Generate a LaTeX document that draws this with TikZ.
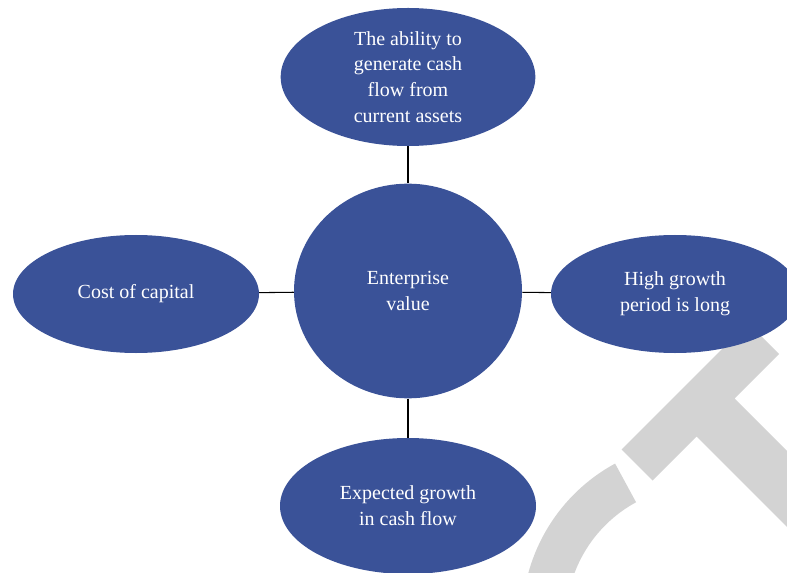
\documentclass[tikz,border=0pt]{standalone}
\usepackage{fontspec}
\setmainfont{Liberation Serif}
\usetikzlibrary{shapes.geometric}
\definecolor{factorBlue}{RGB}{58,82,152}
\definecolor{stampGray}{RGB}{211,211,211}
\tikzset{
  factor/.style={ellipse, fill=factorBlue, text=white, align=center, inner sep=0pt,
    font=\fontsize{15}{19.3}\selectfont},
  link/.style={line width=0.8pt}
}

\begin{document}
\begin{tikzpicture}[x=0.75pt, y=-0.75pt]
\useasboundingbox (0,0) rectangle (787,573);

% watermark behind the diagram
\fill[stampGray] (621.5,449.5) -- (652.5,480.5) -- (696.5,436.5) -- (830,570) -- (868,532)
  -- (734.5,398.5) -- (779,354) -- (748,323) -- cycle;
\fill[stampGray] ([shift={(700,620)}]-118.5:178) arc[start angle=-118.5, end angle=-210, radius=178]
  -- ([shift={(700,620)}]-210:134) arc[start angle=-210, end angle=-118.5, radius=134] -- cycle;

% Enterprise value and its factors
\node[factor, minimum width=171pt, minimum height=161pt] (value) at (408,291) {Enterprise\\value};
\node[factor, minimum width=191pt, minimum height=103.5pt] (ability) at (408,77) {The ability to\\generate cash\\flow from\\current assets};
\node[factor, minimum width=184.5pt, minimum height=88.5pt] (capital) at (136,294) {Cost of capital};
\node[factor, minimum width=186pt, minimum height=88.5pt] (period) at (675,294) {High growth\\period is long};
\node[factor, minimum width=192pt, minimum height=102pt] (growth) at (408,506) {Expected growth\\in cash flow};

\draw[link] (ability) -- (value);
\draw[link] (capital) -- (value);
\draw[link] (value) -- (period);
\draw[link] (value) -- (growth);
\end{tikzpicture}
\end{document}
